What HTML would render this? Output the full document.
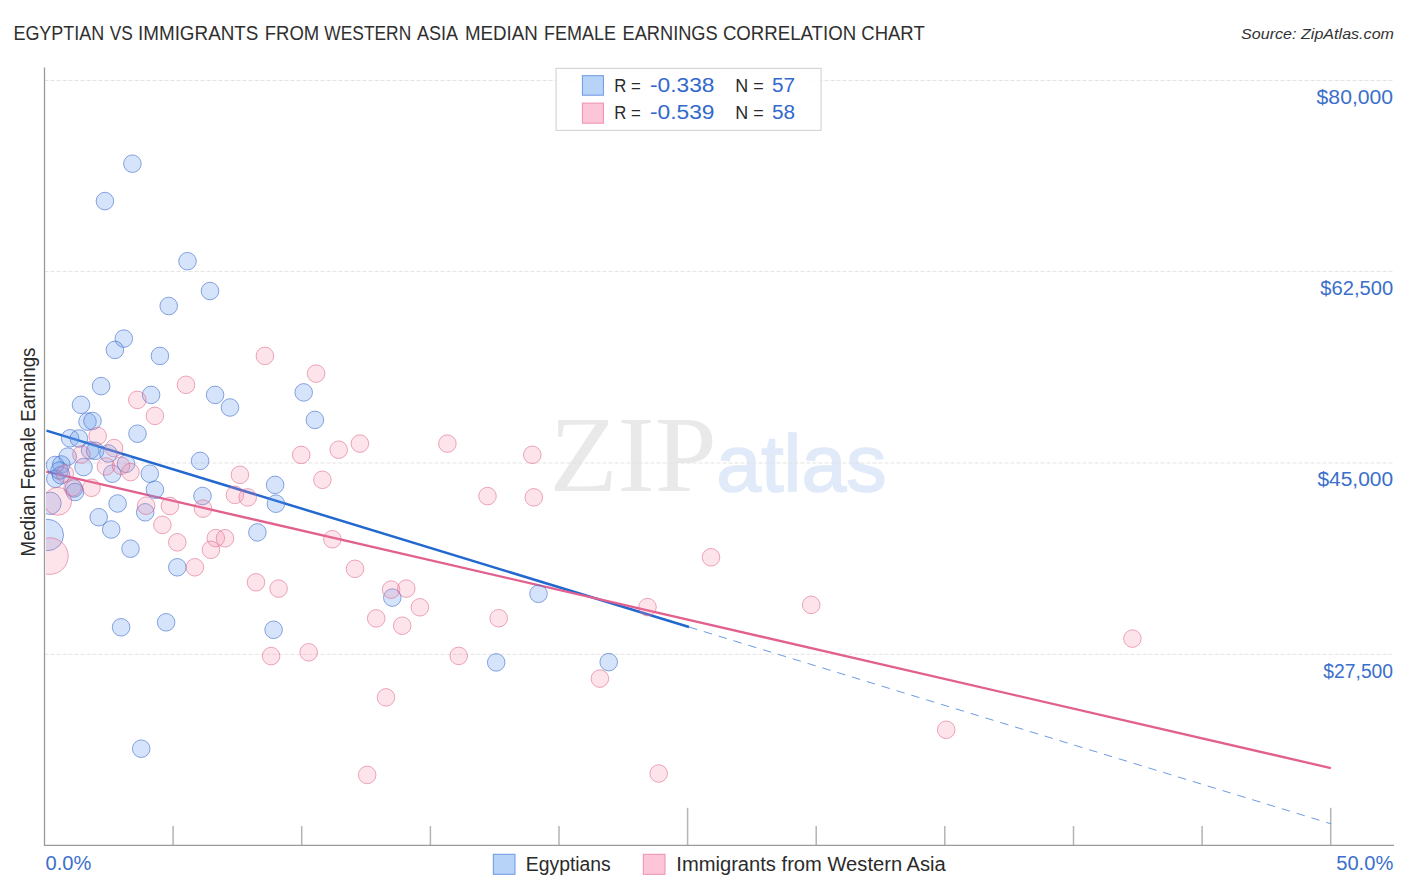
<!DOCTYPE html>
<html><head><meta charset="utf-8"><title>chart</title>
<style>
html,body{margin:0;padding:0;background:#fff;}
body{width:1406px;height:892px;overflow:hidden;font-family:"Liberation Sans",sans-serif;}
svg{display:block}
text{font-family:"Liberation Sans",sans-serif;}
.b{fill:rgba(99,155,236,0.27);stroke:rgba(70,112,205,0.62);stroke-width:1}
.p{fill:rgba(244,130,165,0.22);stroke:rgba(222,100,135,0.56);stroke-width:1}
.g{stroke:#e3e3e3;stroke-width:1;stroke-dasharray:4 2;fill:none}
.ax{stroke:#9a9a9a;stroke-width:1.3;fill:none}
.tk{stroke:#b4b4b4;stroke-width:1.5;fill:none}
.yl{fill:#3b6fcb;font-size:19.6px}
.t{fill:#2f2f2f;font-size:19.6px}
</style></head><body>
<svg width="1406" height="892" viewBox="0 0 1406 892">
<defs><clipPath id="cp"><rect x="46" y="60" width="1361" height="786"/></clipPath></defs>
<rect width="1406" height="892" fill="#fff"/>

<text class="t" x="13.4" y="40" textLength="90.9" lengthAdjust="spacingAndGlyphs">EGYPTIAN</text>
<text class="t" x="109.7" y="40" textLength="23.0" lengthAdjust="spacingAndGlyphs">VS</text>
<text class="t" x="138" y="40" textLength="120.4" lengthAdjust="spacingAndGlyphs">IMMIGRANTS</text>
<text class="t" x="264.8" y="40" textLength="54.5" lengthAdjust="spacingAndGlyphs">FROM</text>
<text class="t" x="324.3" y="40" textLength="86.9" lengthAdjust="spacingAndGlyphs">WESTERN</text>
<text class="t" x="416.9" y="40" textLength="41.1" lengthAdjust="spacingAndGlyphs">ASIA</text>
<text class="t" x="465" y="40" textLength="72.8" lengthAdjust="spacingAndGlyphs">MEDIAN</text>
<text class="t" x="544.1" y="40" textLength="71.8" lengthAdjust="spacingAndGlyphs">FEMALE</text>
<text class="t" x="622.5" y="40" textLength="95.2" lengthAdjust="spacingAndGlyphs">EARNINGS</text>
<text class="t" x="722.9" y="40" textLength="133.2" lengthAdjust="spacingAndGlyphs">CORRELATION</text>
<text class="t" x="861.3" y="40" textLength="63.4" lengthAdjust="spacingAndGlyphs">CHART</text>
<text x="1241.1" y="38.7" font-size="15" font-style="italic" fill="#333" textLength="152.9" lengthAdjust="spacingAndGlyphs">Source: ZipAtlas.com</text>
<text x="549.4" y="490.9" font-family="Liberation Serif, serif" style="font-family:'Liberation Serif',serif" font-size="109" fill="#e9e9e9" textLength="167.4" lengthAdjust="spacingAndGlyphs">ZIP</text>
<text x="716.3" y="490.9" font-size="80" fill="#e0eaf9" stroke="#e0eaf9" stroke-width="1.6" textLength="170.4" lengthAdjust="spacingAndGlyphs">atlas</text>
<line class="g" x1="44.5" y1="80.5" x2="1394" y2="80.5"/>
<line class="g" x1="44.5" y1="271.6" x2="1394" y2="271.6"/>
<line class="g" x1="44.5" y1="463.0" x2="1394" y2="463.0"/>
<line class="g" x1="44.5" y1="654.3" x2="1394" y2="654.3"/>
<text class="yl" x="1316.6" y="103.7" textLength="76.5" lengthAdjust="spacingAndGlyphs">$80,000</text>
<text class="yl" x="1320.3" y="294.8" textLength="72.8" lengthAdjust="spacingAndGlyphs">$62,500</text>
<text class="yl" x="1317.4" y="485.7" textLength="75.7" lengthAdjust="spacingAndGlyphs">$45,000</text>
<text class="yl" x="1323.3" y="677.8" textLength="69.8" lengthAdjust="spacingAndGlyphs">$27,500</text>
<line class="tk" x1="173.1" y1="826.1" x2="173.1" y2="845.3"/>
<line class="tk" x1="301.7" y1="826.1" x2="301.7" y2="845.3"/>
<line class="tk" x1="430.4" y1="826.1" x2="430.4" y2="845.3"/>
<line class="tk" x1="559.0" y1="826.1" x2="559.0" y2="845.3"/>
<line class="tk" x1="687.6" y1="807.8" x2="687.6" y2="845.3"/>
<line class="tk" x1="816.2" y1="826.1" x2="816.2" y2="845.3"/>
<line class="tk" x1="944.8" y1="826.1" x2="944.8" y2="845.3"/>
<line class="tk" x1="1073.5" y1="826.1" x2="1073.5" y2="845.3"/>
<line class="tk" x1="1202.1" y1="826.1" x2="1202.1" y2="845.3"/>
<line class="tk" x1="1330.7" y1="807.8" x2="1330.7" y2="845.3"/>
<line class="ax" x1="44.5" y1="67.5" x2="44.5" y2="845.9"/>
<line class="ax" x1="43.9" y1="845.3" x2="1394" y2="845.3"/>
<text class="yl" x="45.5" y="869.6" textLength="45.9" lengthAdjust="spacingAndGlyphs">0.0%</text>
<text class="yl" x="1336.2" y="869.8" textLength="57.1" lengthAdjust="spacingAndGlyphs">50.0%</text>
<text transform="translate(34.5,556.5) rotate(-90)" font-size="20" fill="#2b2b2b" textLength="209" lengthAdjust="spacingAndGlyphs">Median Female Earnings</text>
<line x1="46.5" y1="430.6" x2="689" y2="627" stroke="#2268cf" stroke-width="2.5"/>
<line x1="689" y1="627" x2="1331" y2="823.8" stroke="#5b8fe0" stroke-width="0.9" stroke-dasharray="8.5 7"/>
<line x1="46.3" y1="471.6" x2="1330.9" y2="768.1" stroke="#e2608e" stroke-width="2.3"/>
<g clip-path="url(#cp)">
<circle class="b" cx="132.4" cy="163.7" r="8.8"/>
<circle class="b" cx="104.9" cy="201.1" r="8.8"/>
<circle class="b" cx="187.5" cy="261.2" r="8.8"/>
<circle class="b" cx="210" cy="291" r="8.8"/>
<circle class="b" cx="168.7" cy="306" r="8.8"/>
<circle class="b" cx="123.8" cy="338.6" r="8.8"/>
<circle class="b" cx="114.9" cy="349.9" r="8.8"/>
<circle class="b" cx="159.9" cy="355.9" r="8.8"/>
<circle class="b" cx="101.1" cy="386.1" r="8.8"/>
<circle class="b" cx="81.0" cy="404.8" r="8.8"/>
<circle class="b" cx="151.1" cy="394.9" r="8.8"/>
<circle class="b" cx="215.1" cy="394.9" r="8.8"/>
<circle class="b" cx="87.5" cy="421.6" r="8.8"/>
<circle class="b" cx="92.5" cy="421" r="8.8"/>
<circle class="b" cx="137.5" cy="433.7" r="8.8"/>
<circle class="b" cx="70.1" cy="438.3" r="8.8"/>
<circle class="b" cx="78.9" cy="438.5" r="8.8"/>
<circle class="b" cx="90.1" cy="450.3" r="8.8"/>
<circle class="b" cx="95.2" cy="450.8" r="8.8"/>
<circle class="b" cx="108.4" cy="453.5" r="8.8"/>
<circle class="b" cx="67.7" cy="456.6" r="8.8"/>
<circle class="b" cx="83.5" cy="467.1" r="8.8"/>
<circle class="b" cx="126" cy="463.8" r="8.8"/>
<circle class="b" cx="200.1" cy="460.9" r="8.8"/>
<circle class="b" cx="112.2" cy="473.7" r="8.8"/>
<circle class="b" cx="149.8" cy="473.7" r="8.8"/>
<circle class="b" cx="154.9" cy="489.7" r="8.8"/>
<circle class="b" cx="202.5" cy="496" r="8.8"/>
<circle class="b" cx="73.9" cy="488.5" r="8.8"/>
<circle class="b" cx="75" cy="492" r="8.8"/>
<circle class="b" cx="117.6" cy="503.5" r="8.8"/>
<circle class="b" cx="145.2" cy="512.3" r="8.8"/>
<circle class="b" cx="98.7" cy="517.2" r="8.8"/>
<circle class="b" cx="111.2" cy="529.5" r="8.8"/>
<circle class="b" cx="130.5" cy="548.7" r="8.8"/>
<circle class="b" cx="230" cy="407.5" r="8.8"/>
<circle class="b" cx="303.7" cy="392.4" r="8.8"/>
<circle class="b" cx="314.9" cy="419.9" r="8.8"/>
<circle class="b" cx="275.1" cy="484.9" r="8.8"/>
<circle class="b" cx="275.9" cy="503.7" r="8.8"/>
<circle class="b" cx="257.4" cy="532.4" r="8.8"/>
<circle class="b" cx="177.3" cy="567.3" r="8.8"/>
<circle class="b" cx="166.1" cy="622.3" r="8.8"/>
<circle class="b" cx="273.6" cy="629.8" r="8.8"/>
<circle class="b" cx="121.1" cy="627.3" r="8.8"/>
<circle class="b" cx="141.2" cy="748.7" r="8.8"/>
<circle class="b" cx="392.3" cy="597.6" r="8.8"/>
<circle class="b" cx="538.5" cy="593.8" r="8.8"/>
<circle class="b" cx="496.2" cy="662.4" r="8.8"/>
<circle class="b" cx="608.7" cy="662.1" r="8.8"/>
<circle class="b" cx="55.1" cy="465" r="8.8"/>
<circle class="b" cx="61.3" cy="464.5" r="8.8"/>
<circle class="b" cx="55.3" cy="478.8" r="8.8"/>
<circle class="b" cx="61.0" cy="475.2" r="8.8"/>
<circle class="b" cx="59.5" cy="470.5" r="8.8"/>
<circle class="b" cx="50" cy="503.3" r="11.2"/>
<circle class="b" cx="47.8" cy="535" r="15.7"/>
<circle class="p" cx="264.9" cy="355.9" r="8.8"/>
<circle class="p" cx="316.1" cy="373.6" r="8.8"/>
<circle class="p" cx="186" cy="384.8" r="8.8"/>
<circle class="p" cx="137.3" cy="399.9" r="8.8"/>
<circle class="p" cx="154.9" cy="415.9" r="8.8"/>
<circle class="p" cx="97.7" cy="436" r="8.8"/>
<circle class="p" cx="114.1" cy="448.1" r="8.8"/>
<circle class="p" cx="81.4" cy="454.5" r="8.8"/>
<circle class="p" cx="105.9" cy="466.4" r="8.8"/>
<circle class="p" cx="121" cy="465.8" r="8.8"/>
<circle class="p" cx="130.4" cy="472.1" r="8.8"/>
<circle class="p" cx="91.5" cy="487.8" r="8.8"/>
<circle class="p" cx="146.1" cy="505.7" r="8.8"/>
<circle class="p" cx="169.9" cy="506" r="8.8"/>
<circle class="p" cx="203" cy="508.6" r="8.8"/>
<circle class="p" cx="162.4" cy="524.9" r="8.8"/>
<circle class="p" cx="301.2" cy="454.9" r="8.8"/>
<circle class="p" cx="338.7" cy="449.7" r="8.8"/>
<circle class="p" cx="359.9" cy="443.6" r="8.8"/>
<circle class="p" cx="239.9" cy="474.8" r="8.8"/>
<circle class="p" cx="322.4" cy="479.8" r="8.8"/>
<circle class="p" cx="234.9" cy="494.9" r="8.8"/>
<circle class="p" cx="247.7" cy="497.4" r="8.8"/>
<circle class="p" cx="215.8" cy="538.1" r="8.8"/>
<circle class="p" cx="225" cy="538.3" r="8.8"/>
<circle class="p" cx="332.4" cy="539.2" r="8.8"/>
<circle class="p" cx="177.3" cy="542.3" r="8.8"/>
<circle class="p" cx="210.9" cy="549.8" r="8.8"/>
<circle class="p" cx="194.9" cy="567.3" r="8.8"/>
<circle class="p" cx="256" cy="582.3" r="8.8"/>
<circle class="p" cx="278.6" cy="588.6" r="8.8"/>
<circle class="p" cx="376.2" cy="618.4" r="8.8"/>
<circle class="p" cx="271.1" cy="656.1" r="8.8"/>
<circle class="p" cx="308.7" cy="652.3" r="8.8"/>
<circle class="p" cx="386" cy="697.4" r="8.8"/>
<circle class="p" cx="367.2" cy="774.9" r="8.8"/>
<circle class="p" cx="447.4" cy="443.6" r="8.8"/>
<circle class="p" cx="532.3" cy="454.8" r="8.8"/>
<circle class="p" cx="487.5" cy="496.1" r="8.8"/>
<circle class="p" cx="533.8" cy="497.4" r="8.8"/>
<circle class="p" cx="355" cy="568.8" r="8.8"/>
<circle class="p" cx="391.1" cy="589.6" r="8.8"/>
<circle class="p" cx="406.3" cy="588.6" r="8.8"/>
<circle class="p" cx="419.9" cy="607.3" r="8.8"/>
<circle class="p" cx="402.2" cy="625.7" r="8.8"/>
<circle class="p" cx="498.7" cy="618.2" r="8.8"/>
<circle class="p" cx="647.5" cy="607.1" r="8.8"/>
<circle class="p" cx="458.7" cy="655.9" r="8.8"/>
<circle class="p" cx="599.9" cy="678.6" r="8.8"/>
<circle class="p" cx="658.7" cy="773.5" r="8.8"/>
<circle class="p" cx="711" cy="557.3" r="8.8"/>
<circle class="p" cx="811.2" cy="604.9" r="8.8"/>
<circle class="p" cx="946.2" cy="729.8" r="8.8"/>
<circle class="p" cx="1132.4" cy="638.6" r="8.8"/>
<circle class="p" cx="64.8" cy="473.6" r="8.8"/>
<circle class="p" cx="72.6" cy="487.4" r="8.8"/>
<circle class="p" cx="57.6" cy="501.3" r="14"/>
<circle class="p" cx="49.9" cy="556.1" r="18.3"/>
</g>
<rect x="556.1" y="68.4" width="265" height="62" fill="#fff" fill-opacity="0.88" stroke="#d6d6d6" stroke-width="1.2"/>
<rect x="582.4" y="75.7" width="21" height="19.5" fill="#b8d3f8" stroke="#6c98de" stroke-width="1"/>
<rect x="582.4" y="103.1" width="21" height="20.1" fill="#fcc6d8" stroke="#ee90b0" stroke-width="1"/>
<text x="614.2" y="92.2" font-size="19" fill="#2b2b2b" textLength="26.5" lengthAdjust="spacingAndGlyphs">R =</text>
<text x="649.9" y="92.2" font-size="19.5" fill="#3169cc" textLength="64.6" lengthAdjust="spacingAndGlyphs">-0.338</text>
<text x="735.2" y="92.2" font-size="19" fill="#2b2b2b" textLength="28.5" lengthAdjust="spacingAndGlyphs">N =</text>
<text x="771.9" y="92.2" font-size="19.5" fill="#3169cc" textLength="23.1" lengthAdjust="spacingAndGlyphs">57</text>
<text x="614.2" y="119.4" font-size="19" fill="#2b2b2b" textLength="26.5" lengthAdjust="spacingAndGlyphs">R =</text>
<text x="649.9" y="119.4" font-size="19.5" fill="#3169cc" textLength="64.6" lengthAdjust="spacingAndGlyphs">-0.539</text>
<text x="735.2" y="119.4" font-size="19" fill="#2b2b2b" textLength="28.5" lengthAdjust="spacingAndGlyphs">N =</text>
<text x="771.9" y="119.4" font-size="19.5" fill="#3169cc" textLength="23.1" lengthAdjust="spacingAndGlyphs">58</text>
<rect x="493.3" y="854.3" width="21.7" height="20" fill="#b8d3f8" stroke="#6c98de" stroke-width="1"/>
<rect x="643.3" y="854.3" width="21.7" height="20" fill="#fcc6d8" stroke="#ee90b0" stroke-width="1"/>
<text x="525.8" y="871" font-size="19.5" fill="#2b2b2b" textLength="85" lengthAdjust="spacingAndGlyphs">Egyptians</text>
<text x="676.3" y="871" font-size="19.5" fill="#2b2b2b" textLength="269.5" lengthAdjust="spacingAndGlyphs">Immigrants from Western Asia</text>
</svg></body></html>
